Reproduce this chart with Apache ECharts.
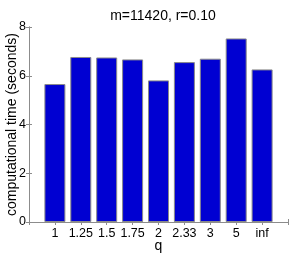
<!DOCTYPE html>
<html><head><meta charset="utf-8">
<script src="https://cdn.jsdelivr.net/npm/echarts@6/dist/echarts.min.js"></script>
<style>html,body{margin:0;padding:0;background:#fff}#c{width:291px;height:254px}</style>
</head><body><div id="c"></div>
<script>
const categories = ['1','1.25','1.5','1.75','2','2.33','3','5','inf'];
const times = [5.66, 6.77, 6.75, 6.67, 5.81, 6.56, 6.70, 7.53, 6.26];
const yTicks = [0, 2, 4, 6, 8];

const font = 'Liberation Sans, Arial, Helvetica, sans-serif';
const axisGray = '#8c8c8c';
const chart = echarts.init(document.getElementById('c'), null, {renderer:'canvas'});
chart.setOption({
  animation: false,
  backgroundColor: '#fff',
  title: {
    text: 'm=11420, r=0.10', left: 158, top: 4, textAlign: 'center',
    textStyle: {fontFamily: font, fontSize: 14, fontWeight: 'normal', color: '#000'}
  },
  grid: {left: 29, right: 3, top: 27, bottom: 32, containLabel: false, outerBoundsMode: 'none', show: false},
  xAxis: [{
    type: 'value', min: 0, max: 10, interval: 1, position: 'bottom',
    name: 'q', nameLocation: 'middle', nameGap: 17, nameMoveOverlap: false,
    nameTextStyle: {fontFamily: font, fontSize: 14, color: '#000'},
    axisLine: {show: true, lineStyle: {color: axisGray, width: 1}},
    axisTick: {show: true, inside: true, length: 3, lineStyle: {color: axisGray}},
    axisLabel: {fontFamily: font, fontSize: 12.5, color: '#000', margin: 5,
      formatter: v => (v >= 1 && v <= 9 && Number.isInteger(v)) ? categories[v - 1] : ''},
    splitLine: {show: false}
  }, {
    type: 'value', min: 0, max: 10, interval: 1, position: 'top',
    axisLine: {show: true, lineStyle: {color: axisGray, width: 1}},
    axisTick: {show: true, inside: true, length: 3, lineStyle: {color: axisGray}},
    axisLabel: {show: false}, splitLine: {show: false}
  }],
  yAxis: [{
    type: 'value', min: yTicks[0], max: yTicks[yTicks.length - 1], interval: 2, position: 'left',
    name: 'computational time (seconds)', nameLocation: 'middle', nameGap: 10, nameMoveOverlap: false,
    nameTextStyle: {fontFamily: font, fontSize: 14, color: '#000'},
    axisLine: {show: true, lineStyle: {color: axisGray, width: 1}},
    axisTick: {show: true, inside: true, length: 3, lineStyle: {color: axisGray}},
    axisLabel: {fontFamily: font, fontSize: 12.5, color: '#000', margin: 3},
    splitLine: {show: false}
  }, {
    type: 'value', min: yTicks[0], max: yTicks[yTicks.length - 1], interval: 2, position: 'right',
    axisLine: {show: true, lineStyle: {color: axisGray, width: 1}},
    axisTick: {show: true, inside: true, length: 3, lineStyle: {color: axisGray}},
    axisLabel: {show: false}, splitLine: {show: false}
  }],
  series: [{
    type: 'bar', xAxisIndex: 0, yAxisIndex: 0,
    data: times.map((t, i) => [i + 1, t]),
    barWidth: 21,
    itemStyle: {color: '#0000d2', borderColor: '#8a8a8a', borderWidth: 1}
  }]
});
</script></body></html>
